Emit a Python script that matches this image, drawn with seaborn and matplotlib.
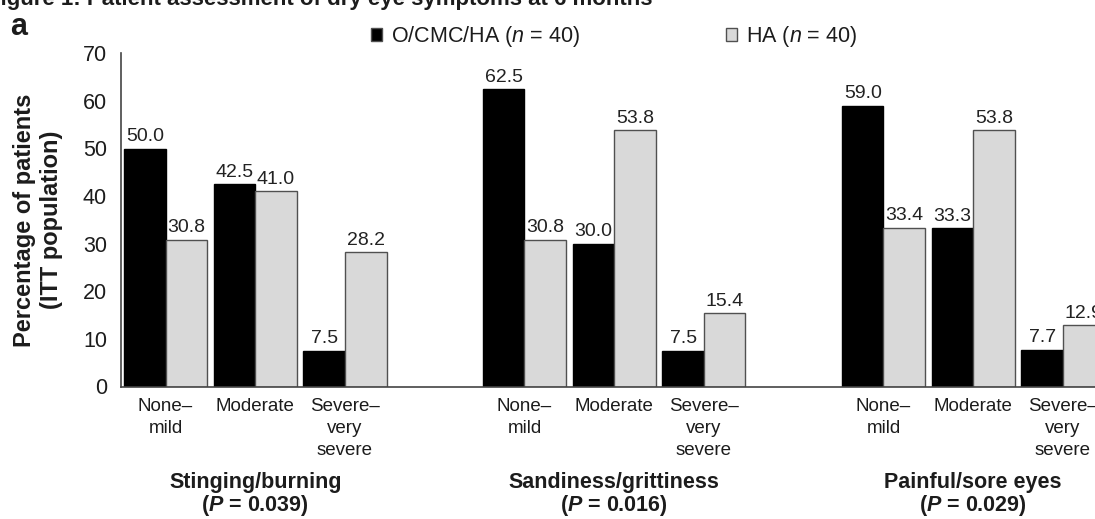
import matplotlib
matplotlib.use("Agg")
import matplotlib.pyplot as plt
import seaborn as sns
import pandas as pd
import numpy as np

# ---------------- data ----------------
symptoms = ["Stinging/burning", "Sandiness/grittiness", "Painful/sore eyes"]
p_values = ["0.039", "0.016", "0.029"]
severity = ["None\u2013mild", "Moderate", "Severe\u2013very severe"]
severity_ticklabels = ["None\u2013\nmild", "Moderate", "Severe\u2013\nvery\nsevere"]
groups = ["O/CMC/HA ($\\it{n}$ = 40)", "HA ($\\it{n}$ = 40)"]
ocmc_ha = [50.0, 42.5, 7.5, 62.5, 30.0, 7.5, 59.0, 33.3, 7.7]
ha_only = [30.8, 41.0, 28.2, 30.8, 53.8, 15.4, 33.4, 53.8, 12.9]
y_ticks = [0, 10, 20, 30, 40, 50, 60, 70]
fig_title = "Figure 1: Patient assessment of dry eye symptoms at 6 months"
panel_letter = "a"
y_label = "Percentage of patients\n(ITT population)"

# ---------------- build long table ----------------
rows = []
order = []
for si, sym in enumerate(symptoms):
    for vi, sev in enumerate(severity):
        key = f"{sym}|{sev}"
        order.append(key)
        rows.append({"slot": key, "group": groups[0], "value": ocmc_ha[si * 3 + vi]})
        rows.append({"slot": key, "group": groups[1], "value": ha_only[si * 3 + vi]})
    if si < len(symptoms) - 1:
        order.append(f"gap{si}")
df = pd.DataFrame(rows)

# ---------------- style ----------------
sns.set_style("white")
plt.rcParams["font.family"] = ["Liberation Sans", "DejaVu Sans"]
plt.rcParams["mathtext.fontset"] = "custom"
plt.rcParams["mathtext.rm"] = "Liberation Sans"
plt.rcParams["mathtext.it"] = "Liberation Sans:italic"
plt.rcParams["mathtext.bf"] = "Liberation Sans:bold"
try:
    plt.rcParams["mathtext.bfit"] = "Liberation Sans:italic:bold"
except Exception:
    pass
txt = "#1c1c1c"

fig = plt.figure(figsize=(10.95, 5.19), dpi=100)
ax = fig.add_axes([121 / 1095, 1 - 386.5 / 519, 974 / 1095, 333.2 / 519])

sns.barplot(data=df, x="slot", y="value", hue="group", order=order,
            hue_order=groups, palette=["#000000", "#d9d9d9"],
            width=0.925, gap=0, errorbar=None, ax=ax, legend=True,
            edgecolor="#505050", linewidth=1.0, saturation=1)

# black bars black edge
for bar in ax.containers[0]:
    bar.set_edgecolor("#000000")

for cont in ax.containers:
    ax.bar_label(cont, fmt="%.1f", padding=2.5, fontsize=14, color="#222222")

ax.set_ylim(0, 70)
ax.set_yticks(y_ticks)
ax.set_xlim(-0.496, 10.357)

pos = [order.index(f"{sym}|{sev}") for sym in symptoms for sev in severity]
ax.set_xticks(pos)
ax.set_xticklabels(severity_ticklabels * len(symptoms), fontsize=13.5,
                   color=txt, linespacing=1.38, va="top")
ax.tick_params(axis="x", length=0, pad=8.5)
ax.tick_params(axis="y", length=5, width=1.0, color="#444444", direction="out",
               labelsize=15.5, labelcolor=txt, pad=5)
ax.set_xlabel("")
ax.set_ylabel(y_label, fontsize=17, fontweight="bold", color=txt, linespacing=1.25)
ax.yaxis.set_label_coords(-0.0595, 0.5)

for s in ["top", "right"]:
    ax.spines[s].set_visible(False)
for s in ["left", "bottom"]:
    ax.spines[s].set_color("#444444")
    ax.spines[s].set_linewidth(1.2)

# group labels below (centred under the middle severity slot)
for sym, p in zip(symptoms, p_values):
    gx = order.index(f"{sym}|{severity[1]}")
    ax.text(gx, -20.2, sym, ha="center", va="center", fontsize=15.5,
            fontweight="bold", color=txt)
    ax.text(gx, -25.1, "($\\mathbfit{P}$ = " + p + ")", ha="center", va="center",
            fontsize=15.5, fontweight="bold", color=txt)

# legend
handles, labels = ax.get_legend_handles_labels()
ax.get_legend().remove()
leg = fig.legend(handles, labels, loc="center left",
                 bbox_to_anchor=(371 / 1095, 1 - 36.7 / 519), ncol=2,
                 frameon=False, fontsize=15.5, handlelength=0.52,
                 handleheight=0.52, handletextpad=0.4, columnspacing=6.8,
                 borderaxespad=0, borderpad=0)
for t in leg.get_texts():
    t.set_color(txt)

# panel letter and (cropped) figure title
fig.text(10 / 1095, 1 - 35 / 519, panel_letter, fontsize=22, fontweight="bold",
         color=txt, ha="left", va="baseline")
fig.text(-13 / 1095, 1 - 5 / 519, fig_title, fontsize=16, fontweight="bold",
         color=txt, ha="left", va="baseline")

fig.savefig("out.png", dpi=100)
